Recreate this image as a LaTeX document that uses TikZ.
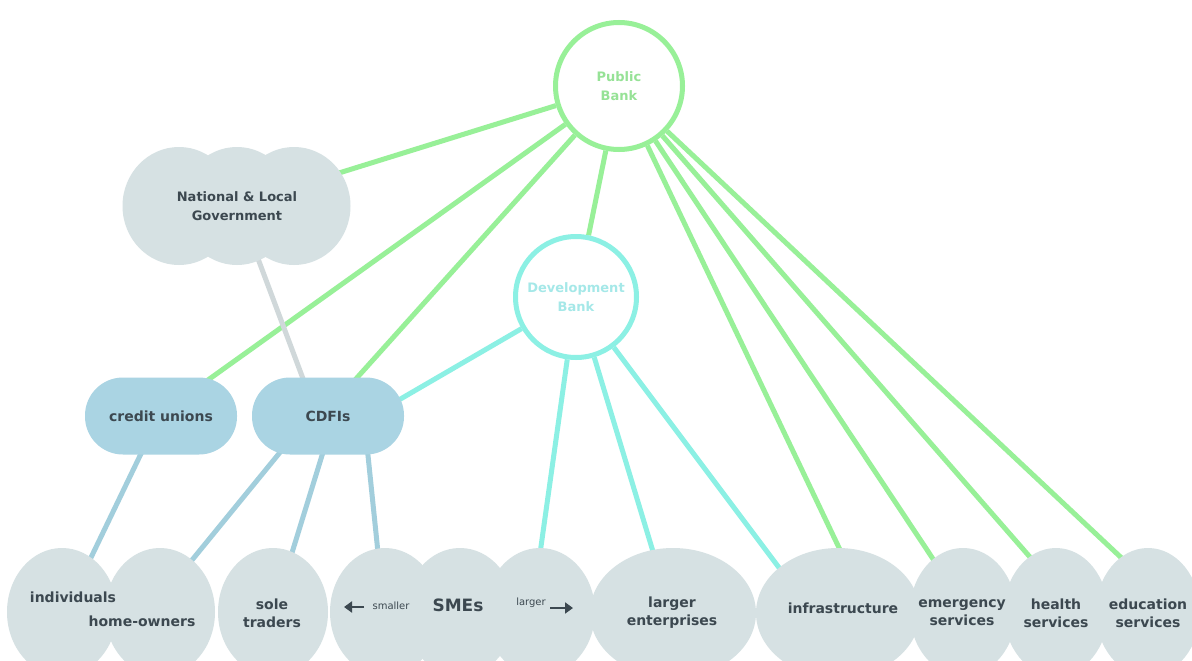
\documentclass[tikz,border=0pt]{standalone}
\usepackage{fontspec}
\setmainfont{DejaVu Sans}
\usetikzlibrary{shapes.geometric,arrows.meta}
\pgfdeclarelayer{bg}
\pgfsetlayers{bg,main}

\definecolor{blobfill}{RGB}{214,225,227}
\definecolor{pillfill}{RGB}{170,212,227}
\definecolor{ink}{RGB}{60,72,80}
\definecolor{pbline}{RGB}{152,240,152}
\definecolor{pbtext}{RGB}{150,226,150}
\definecolor{dbline}{RGB}{140,240,228}
\definecolor{dbtext}{RGB}{165,232,232}
\definecolor{govline}{RGB}{208,216,218}
\definecolor{pillline}{RGB}{162,206,220}

\begin{document}
\begin{tikzpicture}[x=1pt,y=-1pt,
  bank/.style={circle, fill=white, line width=5pt, align=center, inner sep=0pt,
    font=\bfseries\fontsize{13}{19}\selectfont},
  blob/.style={ellipse, fill=blobfill, inner sep=0pt, minimum width=110pt, minimum height=128pt},
  cloudpart/.style={ellipse, fill=blobfill, inner sep=0pt, minimum width=113pt, minimum height=118pt},
  pill/.style={rectangle, rounded corners=38pt, fill=pillfill, minimum width=152pt,
    minimum height=77pt, text=ink, font=\bfseries\fontsize{14}{17}\selectfont},
  lbl/.style={text=ink, align=center, inner sep=0pt, font=\bfseries\fontsize{14}{18}\selectfont},
  small/.style={text=ink, inner sep=0pt, font=\fontsize{10}{12}\selectfont},
  arw/.style={draw=ink, line width=2.4pt, -{Triangle[length=8pt,width=11pt]}},
  pbc/.style={draw=pbline, line width=5pt},
  dbc/.style={draw=dbline, line width=5pt},
  govc/.style={draw=govline, line width=5pt},
  cuc/.style={draw=pillline, line width=5pt}]

\clip (0,0) rectangle (1192,661);
\useasboundingbox (0,0) rectangle (1192,661);

% banks
\node[bank, draw=pbline, text=pbtext, minimum size=127pt] (pb) at (619,86) {Public\\Bank};
\node[bank, draw=dbline, text=dbtext, minimum size=121pt] (db) at (576,297) {Development\\Bank};

% government cloud
\node[cloudpart] (govL) at (179,206) {};
\node[cloudpart] (govM) at (237,206) {};
\node[cloudpart] (govR) at (294,206) {};
\node[lbl, font=\bfseries\fontsize{13}{19}\selectfont] (govT) at (237,206) {National \& Local\\Government};

% intermediaries
\node[pill] (cu) at (161,416) {credit unions};
\node[pill] (cdfi) at (328,416) {CDFIs};

% bottom row of recipients
\node[blob] (ind) at (62,612) {};
\node[blob] (home) at (160,612) {};
\node[blob] (sole) at (273,612) {};
\node[blob] (smeL) at (385,612) {};
\node[blob] (smeM) at (460,612) {};
\node[blob] (smeR) at (540,612) {};
\node[blob, minimum width=166pt, minimum height=130pt] (large) at (673,613) {};
\node[blob, minimum width=164pt, minimum height=130pt] (infra) at (838,613) {};
\node[blob, minimum width=106pt] (emer) at (963,612) {};
\node[blob, minimum width=104pt] (health) at (1056,612) {};
\node[blob, minimum width=104pt] (edu) at (1148,612) {};

\node[lbl] (indT) at (73,597) {individuals};
\node[lbl] (homeT) at (142,621) {home-owners};
\node[lbl] (soleT) at (272,613) {sole\\traders};
\node[lbl, font=\bfseries\fontsize{17}{20}\selectfont] (smeT) at (458,605) {SMEs};
\node[small] (smallerT) at (391,606) {smaller};
\node[small] (largerT) at (531,603) {larger};
\node[lbl] (largeT) at (672,613) {larger\\enterprises};
\node[lbl] (infraT) at (843,608) {infrastructure};
\node[lbl] (emerT) at (962,613) {emergency\\services};
\node[lbl] (healthT) at (1056,613) {health\\services};
\node[lbl] (eduT) at (1148,613) {education\\services};

% size arrows around SMEs
\coordinate (sA1) at (364,607);
\coordinate (sA2) at (344,607);
\coordinate (lA1) at (550,608);
\coordinate (lA2) at (573,608);
\draw[arw] (sA1) -- (sA2);
\draw[arw] (lA1) -- (lA2);

% connector end points inside the shapes
\coordinate (govA) at (310,182);
\coordinate (cuA) at (180,400);
\coordinate (cdfiA) at (337,400);
\coordinate (infraA) at (852,575);
\coordinate (emerA) at (947,580);
\coordinate (healthA) at (1050,580);
\coordinate (eduA) at (1145,580);
\coordinate (cdfiB) at (385,408);
\coordinate (smeB) at (537,575);
\coordinate (largeB) at (661,578);
\coordinate (infraB) at (792,585);
\coordinate (govC) at (248,232);
\coordinate (cdfiC) at (311,400);
\coordinate (cuD) at (150,435);
\coordinate (indD) at (85,570);
\coordinate (cdfiD1) at (295,434);
\coordinate (homeD) at (179,576);
\coordinate (cdfiD2) at (328,436);
\coordinate (soleD) at (287,569);
\coordinate (cdfiD3) at (366,436);
\coordinate (smeD) at (380,572);

\begin{pgfonlayer}{bg}
  \fill[white] (0,0) rectangle (1192,661);
  % public bank links
  \draw[pbc] (pb) -- (govA);
  \draw[pbc] (pb) -- (cuA);
  \draw[pbc] (pb) -- (cdfiA);
  \draw[pbc] (pb) -- (db);
  \draw[pbc] (pb) -- (infraA);
  \draw[pbc] (pb) -- (emerA);
  \draw[pbc] (pb) -- (healthA);
  \draw[pbc] (pb) -- (eduA);
  % development bank links
  \draw[dbc] (db) -- (cdfiB);
  \draw[dbc] (db) -- (smeB);
  \draw[dbc] (db) -- (largeB);
  \draw[dbc] (db) -- (infraB);
  % government link
  \draw[govc] (govC) -- (cdfiC);
  % credit union and CDFI links
  \draw[cuc] (cuD) -- (indD);
  \draw[cuc] (cdfiD1) -- (homeD);
  \draw[cuc] (cdfiD2) -- (soleD);
  \draw[cuc] (cdfiD3) -- (smeD);
\end{pgfonlayer}
\end{tikzpicture}
\end{document}
